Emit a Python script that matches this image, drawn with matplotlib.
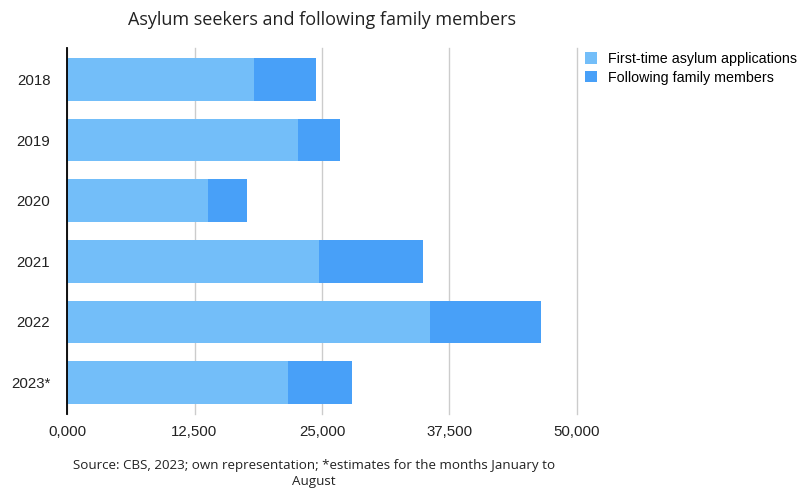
import matplotlib
matplotlib.use("Agg")
import matplotlib.pyplot as plt
from matplotlib.patches import Patch

years = ["2018", "2019", "2020", "2021", "2022", "2023*"]
first_time = [18300, 22600, 13800, 24700, 35600, 21700]
family = [6100, 4200, 3800, 10200, 10900, 6200]
xticks = [0, 12500, 25000, 37500, 50000]
xtick_labels = ["0,000", "12,500", "25,000", "37,500", "50,000"]

c_first = "#73BEF9"
c_family = "#48A0F8"

fig = plt.figure(figsize=(8.06, 4.90), dpi=100)
ax = fig.add_axes([67/806, (490-414)/490, (577-67)/806, (414-48)/490])

ypos = list(range(len(years)))
ax.barh(ypos, first_time, height=0.7, color=c_first, zorder=3)
ax.barh(ypos, family, left=first_time, height=0.7, color=c_family, zorder=3)

ax.set_ylim(len(years) - 0.5 + 0.02, -0.5 - 0.02)
ax.set_xlim(0, 50000)
ax.set_yticks(ypos)
ax.set_yticklabels(years, fontsize=10.8, family="Liberation Sans", color="#222222")
ax.set_xticks(xticks)
ax.set_xticklabels(xtick_labels, fontsize=10.8, family="Liberation Sans", color="#222222")
ax.tick_params(axis="both", length=0)
ax.tick_params(axis="y", pad=12)
ax.tick_params(axis="x", pad=8)

ax.grid(axis="x", color="#cccccc", linewidth=1, zorder=0)
for gl in ax.get_xgridlines():
    gl.set_clip_on(False)
for s in ["top", "right", "bottom"]:
    ax.spines[s].set_visible(False)
ax.spines["left"].set_color("black")
ax.spines["left"].set_linewidth(1.3)
ax.spines["left"].set_zorder(4)

fig.text(322/806, 1 - 20/490, "Asylum seekers and following family members",
         ha="center", va="center", fontsize=13, family="Open Sans", color="#222222")

fig.text(314/806, 1 - 465/490, "Source: CBS, 2023; own representation; *estimates for the months January to",
         ha="center", va="center", fontsize=9.6, family="Open Sans", color="#222222")
fig.text(314/806, 1 - 481/490, "August",
         ha="center", va="center", fontsize=9.6, family="Open Sans", color="#222222")

handles = [Patch(facecolor=c_first, edgecolor="none"), Patch(facecolor=c_family, edgecolor="none")]
fig.legend(handles, ["First-time asylum applications", "Following family members"],
           loc="upper left", bbox_to_anchor=(585/806, 1 - 52/490), frameon=False,
           prop={"family": "Liberation Sans", "size": 10.3}, handlelength=0.85, handleheight=0.85,
           handletextpad=0.75, labelspacing=0.32, borderaxespad=0, borderpad=0)

fig.savefig("out.png", dpi=100)
